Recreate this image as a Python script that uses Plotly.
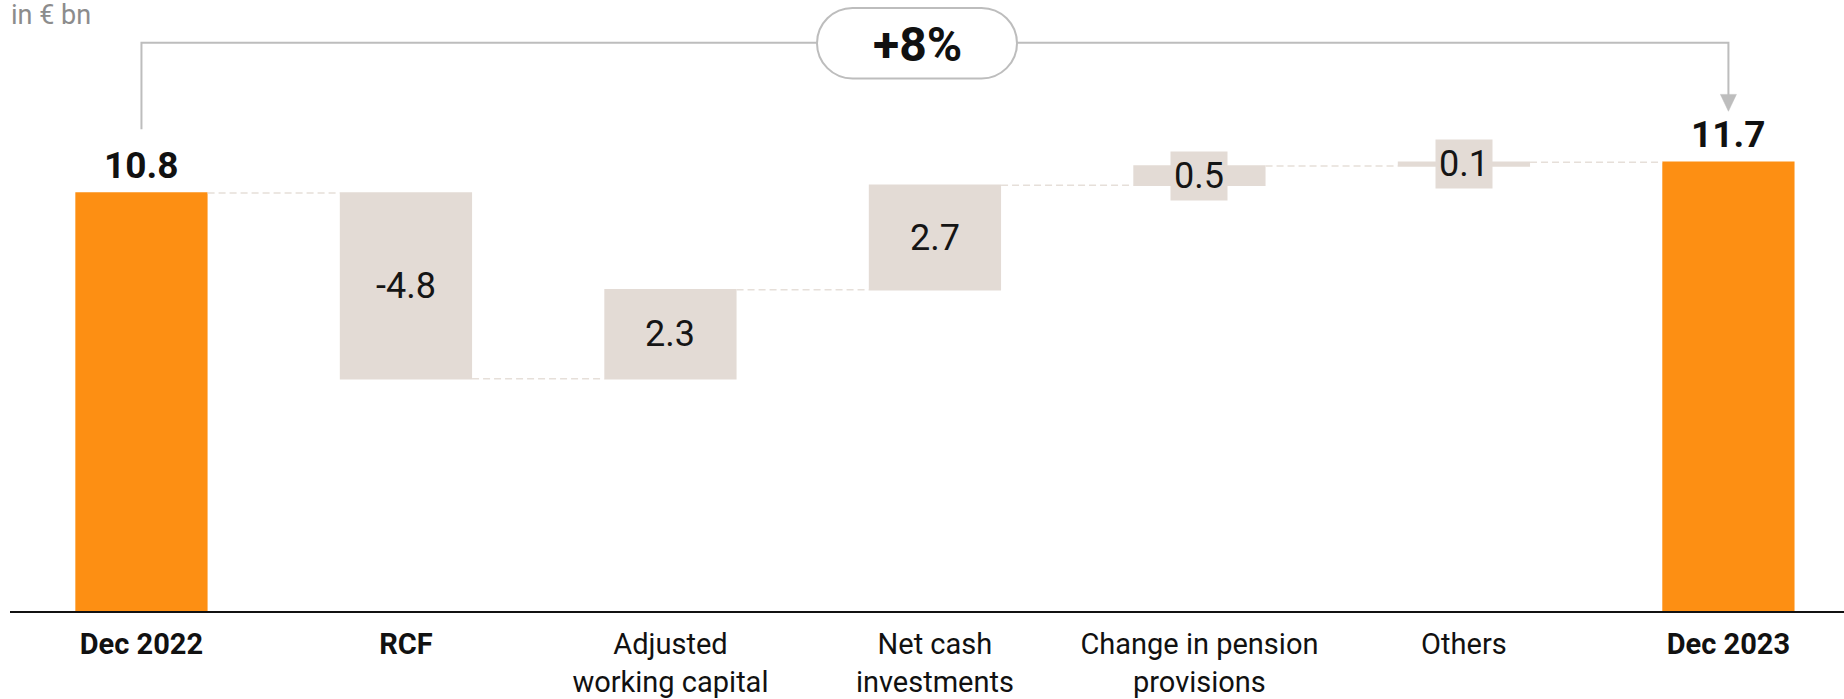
import plotly.graph_objects as go

# ---------------- data ----------------
categories = ["Dec 2022", "RCF", "Adjusted working capital", "Net cash investments",
              "Change in pension provisions", "Others", "Dec 2023"]
tick_text = ["<b>Dec 2022</b>", "<b>RCF</b>", "Adjusted<br>working capital", "Net cash<br>investments",
             "Change in pension<br>provisions", "Others", "<b>Dec 2023</b>"]
measures = ["absolute", "relative", "relative", "relative", "relative", "relative", "total"]
values = [10.8, -4.8, 2.3, 2.7, 0.5, 0.1, 11.7]
value_labels = ["10.8", "-4.8", "2.3", "2.7", "0.5", "0.1", "11.7"]
change_label = "+8%"
unit_label = "in € bn"

# ---------------- style ----------------
ORANGE = "#FD8F13"
BEIGE = "#E3DBD5"
CONNECTOR = "#E6DFD9"
GREY = "#BDBDBD"
FONT = "Roboto"

W, H = 1844, 699
ML, MR, MT, MB = 10, 0, 0, 84
PW, PH = W - ML - MR, H - MT - MB
X0, X1 = -0.497, 6.437
Y0, Y1 = 0, 15.79


def px_x(p):
    return (p - ML) / PW


def px_y(p):
    return 1 - (p - MT) / PH


def idx_to_paper(i):
    return (i - X0) / (X1 - X0)


fig = go.Figure()
fig.add_trace(go.Waterfall(
    x=categories,
    y=values,
    measure=measures,
    width=0.5,
    increasing=dict(marker=dict(color=BEIGE, line=dict(width=0))),
    decreasing=dict(marker=dict(color=BEIGE, line=dict(width=0))),
    totals=dict(marker=dict(color=ORANGE, line=dict(width=0))),
    connector=dict(mode="between", line=dict(color=CONNECTOR, width=1.5, dash="7px,4px")),
    textinfo="none",
    hoverinfo="skip",
))

annotations = []
running = 0.0
for i, (cat, m, v, lab) in enumerate(zip(categories, measures, values, value_labels)):
    if m in ("absolute", "total"):
        if m == "absolute":
            running = v
        annotations.append(dict(
            x=cat, y=running, xref="x", yref="y", text=f"<b>{lab}</b>", showarrow=False,
            yanchor="middle", yshift=28,
            font=dict(family=FONT, size=37, color="#111111"),
        ))
    else:
        start = running
        running = running + v
        mid = (start + running) / 2
        annotations.append(dict(
            x=cat, y=mid, xref="x", yref="y", text=lab, showarrow=False,
            yanchor="middle", bgcolor=BEIGE, borderpad=3,
            font=dict(family=FONT, size=36, color="#151515"),
        ))

# unit label
annotations.append(dict(
    x=px_x(9), y=px_y(15), xref="paper", yref="paper", text=unit_label, showarrow=False,
    xanchor="left", yanchor="middle", font=dict(family=FONT, size=27, color="#8C8C8C"),
))

# pill geometry (pixels)
pl, pr, pt, pb = 817, 1017, 8, 79
pcy = (pt + pb) / 2
r = (pb - pt) / 2
line_y = 43

annotations.append(dict(
    x=px_x((pl + pr) / 2), y=px_y(pcy + 1), xref="paper", yref="paper", text=f"<b>{change_label}</b>",
    showarrow=False, xanchor="center", yanchor="middle",
    font=dict(family=FONT, size=48, color="#111111"),
))

shapes = []
xl = idx_to_paper(0)
xr = idx_to_paper(6)
# left bracket
shapes.append(dict(type="path", xref="paper", yref="paper",
                   path=f"M {xl},{px_y(130)} L {xl},{px_y(line_y)} L {px_x(pl)},{px_y(line_y)}",
                   line=dict(color=GREY, width=2)))
# right bracket
shapes.append(dict(type="path", xref="paper", yref="paper",
                   path=f"M {px_x(pr)},{px_y(line_y)} L {xr},{px_y(line_y)} L {xr},{px_y(97)}",
                   line=dict(color=GREY, width=2)))
# arrow head
hw = 8 / PW
shapes.append(dict(type="path", xref="paper", yref="paper",
                   path=f"M {xr - hw},{px_y(95)} L {xr + hw},{px_y(95)} L {xr},{px_y(112)} Z",
                   fillcolor=GREY, line=dict(color=GREY, width=0.5)))
# pill (rounded rect with cubic curves)
k = 0.5523
def P(xp, yp):
    return f"{px_x(xp)},{px_y(yp)}"
pill = (
    f"M {P(pl + r, pt)} L {P(pr - r, pt)} "
    f"C {P(pr - r + k * r, pt)} {P(pr, pcy - k * r)} {P(pr, pcy)} "
    f"C {P(pr, pcy + k * r)} {P(pr - r + k * r, pb)} {P(pr - r, pb)} "
    f"L {P(pl + r, pb)} "
    f"C {P(pl + r - k * r, pb)} {P(pl, pcy + k * r)} {P(pl, pcy)} "
    f"C {P(pl, pcy - k * r)} {P(pl + r - k * r, pt)} {P(pl + r, pt)} Z"
)
shapes.append(dict(type="path", xref="paper", yref="paper", path=pill,
                   fillcolor="white", line=dict(color=GREY, width=2), layer="below"))

fig.update_layout(
    width=W, height=H,
    margin=dict(l=ML, r=MR, t=MT, b=MB, pad=0),
    paper_bgcolor="white", plot_bgcolor="white",
    showlegend=False,
    font=dict(family=FONT, color="#111111"),
    annotations=annotations,
    shapes=shapes,
    xaxis=dict(
        type="category", range=[X0, X1], tickvals=categories, ticktext=tick_text,
        showline=True, linecolor="#111111", linewidth=2, ticks="",
        showgrid=False, zeroline=False, tickfont=dict(family=FONT, size=29, color="#111111"),
        ticklabelstandoff=6, fixedrange=True,
    ),
    yaxis=dict(range=[Y0, Y1], visible=False, showgrid=False, zeroline=False, fixedrange=True),
)

fig.write_html(
    "out.html",
    config={"displayModeBar": False},
    post_script="document.body.style.margin='0';document.body.style.overflow='hidden';",
)
